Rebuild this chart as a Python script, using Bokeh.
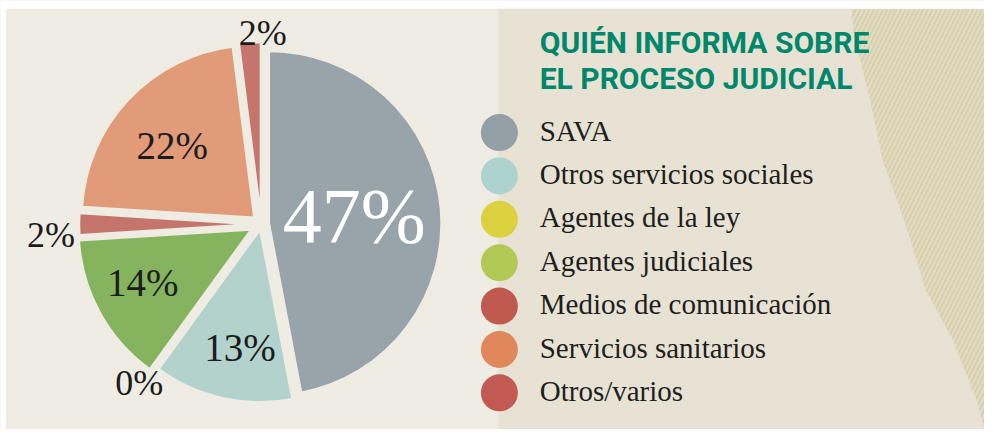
import math
from bokeh.plotting import figure
from bokeh.models import BoxAnnotation, PolyAnnotation, ColumnDataSource, Range1d
from bokeh.core.properties import value
from bokeh.embed import file_html
from bokeh.resources import INLINE

# ---------------- data ----------------
categories = ["SAVA", "Otros servicios sociales", "Agentes de la ley",
              "Agentes judiciales", "Medios de comunicación",
              "Servicios sanitarios", "Otros/varios"]
percent = [47, 13, 0, 14, 2, 22, 2]
title_lines = ["QUIÉN INFORMA SOBRE", "EL PROCESO JUDICIAL"]

# ---------------- styles ----------------
pie_colors = ["#98a4a9", "#b3d2cc", "#dcd040", "#86b45e", "#c5756c", "#e19b78", "#c5756c"]
legend_colors = ["#949fa6", "#acd3cd", "#dcd13f", "#b3c956", "#c05a50", "#e0885b", "#c05a52"]
explode = [8, 6, 0, 12, 10, 10, 10]          # px push-out of each slice
label_r = [95, 130, 206, 135, 214, 122, 198]   # label distance from centre
label_shift = [0, 3, -1, -2, 3, 1, -4]         # degrees of label angle tweak
label_size = [78, 39, 36, 39, 36, 39, 36]
label_color = ["#ffffff", "#1c1c1c", "#1c1c1c", "#1c1c1c", "#1c1c1c", "#1c1c1c", "#1c1c1c"]

BG = "#efece4"
W, H = 984, 429          # canvas in px
RW, RH = 1000, 445       # reference frame (data units)


def X(px):
    return px


def Y(py):
    return RH - py


p = figure(width=W, height=H, x_range=Range1d(0, RW), y_range=Range1d(0, RH),
           x_axis_type=None, y_axis_type=None, output_backend="svg",
           toolbar_location=None, min_border=0)
p.grid.visible = False
p.outline_line_color = None
p.background_fill_color = BG
p.border_fill_color = BG

# right-hand beige panel and leaf-pattern strip
p.add_layout(BoxAnnotation(left=X(506), fill_color="#e8e2d4", fill_alpha=1,
                           line_color=None, level="underlay"))
pat_x = [865, 1000, 1000, 993, 967, 940, 920, 897, 883, 867]
pat_y = [9, 9, 445, 417, 350, 300, 233, 167, 100, 33]
p.add_layout(PolyAnnotation(xs=[X(v) for v in pat_x], ys=[Y(v) for v in pat_y],
                            fill_color="#d7d0b0", fill_alpha=1, line_color=None,
                            hatch_pattern="right_diagonal_line", hatch_color="#e6e0c6",
                            hatch_alpha=0.8, hatch_scale=9, hatch_weight=2,
                            level="underlay"))
# white frame strips (top and left)
p.add_layout(BoxAnnotation(bottom=Y(8.5), fill_color="#ffffff", fill_alpha=1,
                           line_color=None, level="underlay"))
p.add_layout(BoxAnnotation(right=X(5.5), fill_color="#ffffff", fill_alpha=1,
                           line_color=None, level="underlay"))

# ---------------- pie ----------------
cx, cy, R = X(265), Y(232), 175
wx, wy, ws, we, wc = [], [], [], [], []
lx, ly, lt, ls, lc = [], [], [], [], []
cum = 0.0
for i, v in enumerate(percent):
    a_end = 90 - cum * 3.6
    a_start = a_end - v * 3.6
    cum += v
    mid = (a_start + a_end) / 2
    ox = cx + explode[i] * math.cos(math.radians(mid))
    oy = cy + explode[i] * math.sin(math.radians(mid))
    if v > 0:
        wx.append(ox); wy.append(oy)
        ws.append(math.radians(a_start)); we.append(math.radians(a_end))
        wc.append(pie_colors[i])
    la = math.radians(mid + label_shift[i])
    lx.append(cx + label_r[i] * math.cos(la))
    ly.append(cy + label_r[i] * math.sin(la))
    lt.append(f"{v}%")
    ls.append(f"{label_size[i]}px")
    lc.append(label_color[i])

p.wedge(x="x", y="y", radius=R, start_angle="s", end_angle="e", fill_color="c",
        line_color=BG, line_width=2,
        source=ColumnDataSource(dict(x=wx, y=wy, s=ws, e=we, c=wc)))

p.text(x="x", y="y", text="t", text_font_size="fs", text_color="c",
       text_align="center", text_baseline="middle",
       text_font=value("Liberation Serif"),
       source=ColumnDataSource(dict(x=lx, y=ly, t=lt, fs=ls, c=lc)))

# ---------------- title ----------------
p.text(x=[X(548)] * 2, y=[Y(44), Y(81)], text=title_lines,
       text_font=value("Roboto"), text_font_style="bold", text_font_size="30px",
       text_color="#00876b", text_baseline="middle", text_align="left")

# ---------------- legend ----------------
rows = [137 + 45 * i for i in range(len(categories))]
p.scatter(x=[X(507)] * len(categories), y=[Y(r) for r in rows], marker="circle",
          size=37, fill_color=legend_colors, line_color=None)
p.text(x=[X(548)] * len(categories), y=[Y(r - 2) for r in rows], text=categories,
       text_font=value("Liberation Serif"), text_font_size="29px",
       text_color="#1e1e1e", text_baseline="middle", text_align="left")

open("out.html", "w").write(file_html(p, INLINE))
